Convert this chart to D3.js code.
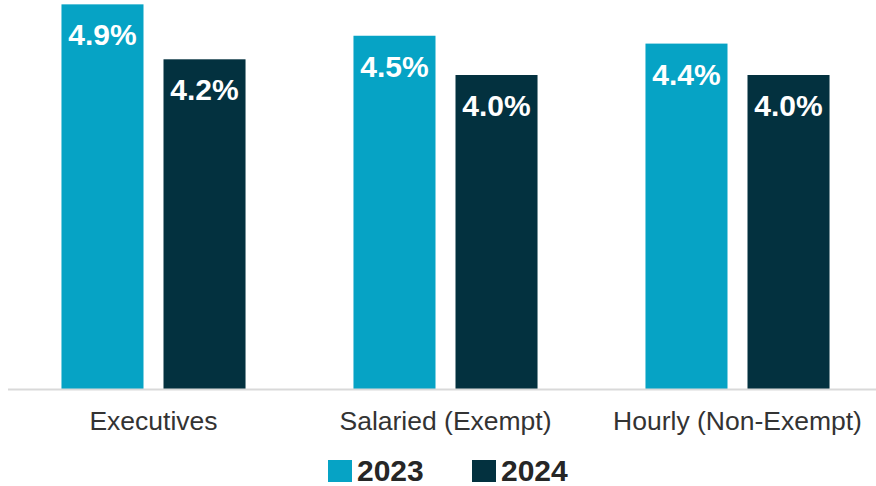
<!DOCTYPE html>
<html>
<head>
<meta charset="utf-8">
<script src="https://cdn.jsdelivr.net/npm/d3@7"></script>
<style>
  html, body { margin: 0; padding: 0; background: #fff; }
  svg { display: block; font-family: "Liberation Sans", Arial, sans-serif; }
</style>
</head>
<body>
<svg id="chart" width="876" height="486"></svg>
<script>
// Average salary increase by employee group
const categories = ["Executives", "Salaried (Exempt)", "Hourly (Non-Exempt)"];
const seriesNames = ["2023", "2024"];
const values2023 = [4.9, 4.5, 4.4];
const values2024 = [4.2, 4.0, 4.0];
const colors = ["#06a3c5", "#03313f"];

const seriesValues = [values2023, values2024];
const rows = categories.map((c, i) => ({
  category: c,
  bars: seriesNames.map((s, j) => ({ series: s, value: seriesValues[j][i], color: colors[j] }))
}));

const svg = d3.select("#chart");
const baseY = 389;

const x0 = d3.scaleBand().domain(categories).range([7.5, 883.5]).padding(0);
const x1 = d3.scaleBand().domain(seriesNames).range([0, x0.bandwidth()])
  .paddingInner(0.196).paddingOuter(0.529);
const y = d3.scaleLinear().domain([0, 5]).range([baseY, baseY - 5 * 78.5]);

// Bars
const groups = svg.append("g").selectAll("g").data(rows).join("g")
  .attr("transform", d => `translate(${x0(d.category)},0)`);

groups.selectAll("rect").data(d => d.bars).join("rect")
  .attr("x", d => x1(d.series))
  .attr("y", d => y(d.value))
  .attr("width", x1.bandwidth())
  .attr("height", d => y(0) - y(d.value))
  .attr("fill", d => d.color);

// Value labels inside the top of each bar
groups.selectAll("text").data(d => d.bars).join("text")
  .attr("x", d => x1(d.series) + x1.bandwidth() / 2)
  .attr("y", d => y(d.value) + 41)
  .attr("text-anchor", "middle")
  .attr("fill", "#fff")
  .attr("font-weight", "bold")
  .attr("font-size", 30)
  .text(d => d.value.toFixed(1) + "%");

// Category axis
const axis = svg.append("g")
  .attr("transform", `translate(0,${baseY + 0.5})`)
  .call(d3.axisBottom(x0).tickSize(0).tickPadding(22));
axis.select(".domain").attr("stroke", "#d9d9d9").attr("stroke-width", 2)
  .attr("d", "M8,0H876");
axis.selectAll(".tick text")
  .attr("font-family", "'Liberation Sans', Arial, sans-serif")
  .attr("font-size", 26.5)
  .attr("fill", "#333");

// Legend
const legendItems = [
  { name: seriesNames[0], color: colors[0], x: 328 },
  { name: seriesNames[1], color: colors[1], x: 472 }
];
const legend = svg.append("g").selectAll("g").data(legendItems).join("g")
  .attr("transform", d => `translate(${d.x},459)`);
legend.append("rect").attr("width", 24).attr("height", 22).attr("y", 1).attr("fill", d => d.color);
legend.append("text")
  .attr("x", 29).attr("y", 22)
  .attr("font-size", 30).attr("font-weight", "bold").attr("fill", "#262626")
  .text(d => d.name);
</script>
</body>
</html>
